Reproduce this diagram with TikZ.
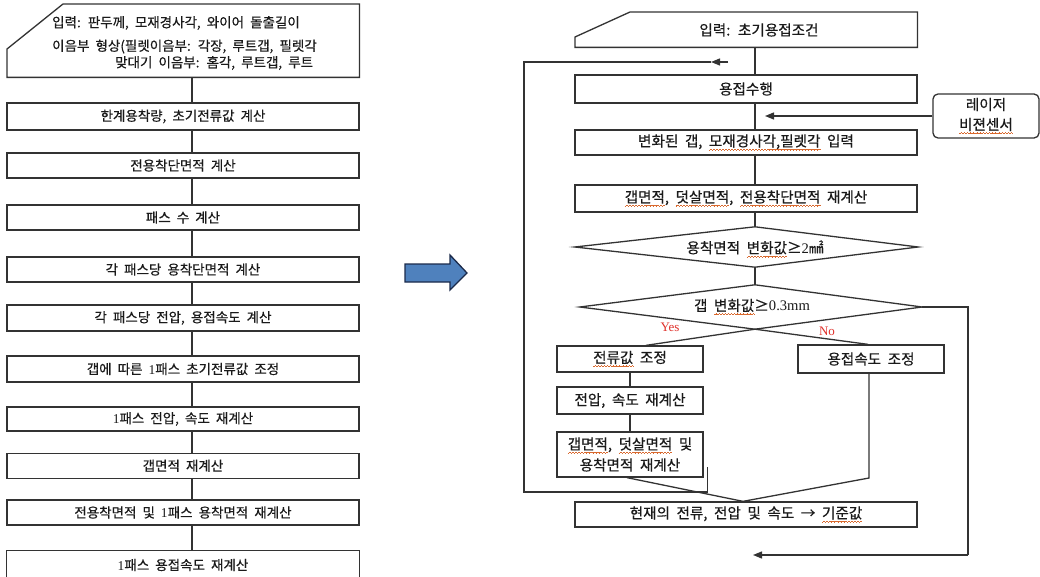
\documentclass[tikz,border=0pt]{standalone}
\usepackage{fontspec}
\setmainfont[WordSpace=2,FakeBold=0.5]{Noto Sans CJK KR}
\newfontfamily\lat{Liberation Serif}
\usetikzlibrary{shapes.geometric,arrows.meta}
\definecolor{ln}{HTML}{333333}
\definecolor{txt}{HTML}{1A1A1A}
\definecolor{sq}{HTML}{D9692E}
\definecolor{blu}{HTML}{4F81BD}
\definecolor{blk}{HTML}{1B2A4A}
\definecolor{ynred}{HTML}{E0302A}
\newcommand\lf{\fontsize{13.5}{16}\selectfont}
\newcommand\rf{\fontsize{14.6}{22}\selectfont}
\newsavebox\sqbox
\newcommand\wvpiece{\hbox{\rule[-4.3pt]{0.75pt}{0.7pt}\rule[-3.7pt]{0.75pt}{0.7pt}\rule[-3.1pt]{0.75pt}{0.7pt}\rule[-3.7pt]{0.75pt}{0.7pt}}}
\newcommand\sqw[1]{\leavevmode\sbox\sqbox{#1}\rlap{\color{sq}\hbox to \wd\sqbox{\xleaders\wvpiece\hfil}}\usebox\sqbox}
\begin{document}
\begin{tikzpicture}[x=1pt,y=-1pt,
 conn/.style={draw=ln,line width=1.3pt},
 lbox/.style={draw=ln,line width=1.3pt,minimum width=352pt,minimum height=25pt,inner sep=0pt,font=\lf,text=txt},
 rbox/.style={draw=ln,line width=1.3pt,minimum width=342pt,minimum height=26pt,inner sep=0pt,font=\rf,text=txt},
 sbox/.style={draw=ln,line width=1.3pt,minimum width=146pt,minimum height=26pt,inner sep=0pt,font=\rf,text=txt,align=center},
 lbl/.style={font=\lf,text=txt,inner sep=0pt},
 rlbl/.style={font=\rf,text=txt,inner sep=0pt},
 yn/.style={font=\lat\fontsize{13}{15}\selectfont,text=ynred,inner sep=0pt},
 tip/.style={-{Triangle[length=9pt,width=7pt]}}
]
\fill[white] (0,0) rectangle (1040,577);
\useasboundingbox (0,0) rectangle (1040,577);

% ---------------- left column ----------------
\coordinate (lx) at (192,0);
\node[minimum width=352pt,minimum height=73pt,inner sep=0pt,anchor=north west] (inL) at (7,4) {};
\draw[conn] ([yshift=-45pt]inL.north west) -- ([xshift=56pt]inL.north west) -- (inL.north east) -- (inL.south east) -- (inL.south west) -- cycle;
\node[lbl,anchor=west] (inL1) at (52,23) {입력: 판두께, 모재경사각, 와이어 돌출길이};
\node[lbl,anchor=west] (inL2) at (52,46.5) {이음부 형상(필렛이음부: 각장, 루트갭, 필렛각};
\node[lbl,anchor=west] (inL3) at (115,63) {맞대기 이음부: 홈각, 루트갭, 루트};

\node[lbox,minimum height=27pt] (b1) at (183,116.5) {한계용착량, 초기전류값 계산};
\node[lbox] (b2) at (183,165.5) {전용착단면적 계산};
\node[lbox] (b3) at (183,217.5) {패스 수 계산};
\node[lbox] (b4) at (183,269.5) {각 패스당 용착단면적 계산};
\node[lbox,minimum height=26pt] (b5) at (183,318) {각 패스당 전압, 용접속도 계산};
\node[lbox,minimum height=26pt] (b6) at (183,369) {갭에 따른 {\lat 1}패스 초기전류값 조정};
\node[lbox,minimum height=24pt] (b7) at (183,419) {{\lat 1}패스 전압, 속도 재계산};
\node[lbox] (b8) at (183,465.8) {갭면적 재계산};
\node[lbox] (b9) at (183,512.5) {전용착면적 및 {\lat 1}패스 용착면적 재계산};
\node[minimum width=352pt,minimum height=28pt,inner sep=0pt,font=\lf,text=txt] (b10) at (183,565) {{\lat 1}패스 용접속도 재계산};
\draw[conn] (b10.south west) -- (b10.north west) -- (b10.north east) -- (b10.south east);

\foreach \a/\b in {inL/b1,b1/b2,b2/b3,b3/b4,b4/b5,b5/b6,b6/b7,b7/b8,b8/b9,b9/b10}
  \draw[conn] (\a.south -| lx) -- (\b.north -| lx);

% ---------------- big arrow ----------------
\draw[fill=blu,draw=blk,line width=1.3pt,line join=miter]
  (405,264) -- (450,264) -- (450,255) -- (467,273) -- (450,290) -- (450,282) -- (405,282) -- cycle;

% ---------------- right column ----------------
\coordinate (rx) at (755,0);
\node[minimum width=342pt,minimum height=35pt,inner sep=0pt,anchor=north west] (inR) at (575,12) {};
\draw[conn] ([yshift=-25pt]inR.north west) -- ([xshift=55pt]inR.north west) -- (inR.north east) -- (inR.south east) -- (inR.south west) -- cycle;
\node[rlbl] (inRt) at (759,30) {입력: 초기용접조건};

\node[rbox,minimum height=28pt] (r1) at (746,89) {용접수행};
\node[rbox,minimum height=25pt] (r2) at (746,142.5) {변화된 갭, \sqw{모재경사각,필렛각} 입력};
\node[rbox,minimum height=27pt] (r3) at (746,198.5) {\sqw{갭면적}, \sqw{덧살면적}, \sqw{전용착단면적} 재계산};

\node[minimum width=343pt,minimum height=40pt,inner sep=0pt] (d1) at (746.5,247) {};
\draw[conn] (d1.west) -- (d1.north -| rx) -- (d1.east) -- (d1.south -| rx) -- cycle;
\node[rlbl] (d1t) at (755,249) {용착면적 \sqw{변화값}≥{\lat 2}㎟};

\node[minimum width=342pt,minimum height=44pt,inner sep=0pt] (d2) at (751,307) {};
\draw[conn] (d2.west) -- (d2.north -| rx) -- (d2.east) -- (d2.south -| rx) -- cycle;
\node[rlbl] (d2t) at (752,307) {갭 \sqw{변화값}≥{\lat 0.3mm}};

\node[rounded corners=5pt,draw=ln,line width=1.3pt,minimum width=106pt,minimum height=44pt,inner sep=0pt,font=\rf,text=txt,align=center] (laser) at (986,116) {레이저\\[-2pt]\sqw{비젼센서}};

\node[sbox] (rY) at (630,359) {\sqw{전류값} 조정};
\node[sbox,minimum height=28pt] (rN) at (871,359) {용접속도 조정};
\node[sbox,minimum height=27pt] (rY2) at (630,400.5) {전압, 속도 재계산};
\node[sbox,minimum height=45pt] (rY3) at (630,454.5) {\sqw{갭면적}, \sqw{덧살면적} 및\\[-1pt]용착면적 재계산};
\node[rbox,minimum height=25pt] (rEnd) at (746,514.5) {현재의 전류, 전압 및 속도 → \sqw{기준값}};

\node[yn] (yes) at (670,327) {Yes};
\node[yn] (no) at (827,331) {No};

% connectors
\draw[conn] (inR.south -| rx) -- (r1.north -| rx);
\draw[conn] (r1.south -| rx) -- (r2.north -| rx);
\draw[conn] (r2.south -| rx) -- (r3.north -| rx);
\draw[conn] (r3.south -| rx) -- (d1.north -| rx);
\draw[conn] (d1.south -| rx) -- (d2.north -| rx);

\coordinate (lsT) at (765,116);
\draw[conn,tip] (laser.west) -- (lsT);

\draw[conn] (d2.south -| rx) -- ([xshift=16pt]rY.north);
\draw[conn] (d2.south -| rx) -- ([xshift=-3pt]rN.north);
\draw[conn] (rY.south) -- (rY2.north);
\draw[conn] (rY2.south) -- (rY3.north);

\coordinate (m) at ([xshift=-3pt]rEnd.north);
\coordinate (nb) at (869,478);
\draw[conn] (rN.south -| nb) -- (nb) -- (m);
\draw[conn] ([xshift=-3pt]rY3.south) -- (m);

\coordinate (nr) at (968,555);
\coordinate (nend) at (753,555);
\draw[conn] (d2.east) -| (nr);
\draw[conn,tip] (nr) -- (nend);

\coordinate (lpA) at ([xshift=4pt,yshift=-12.5pt]rY3.east);
\coordinate (lpB) at (524,492);
\coordinate (lpC) at (728,62);
\coordinate (lpT) at (711,62);
\draw[conn] (lpA) -- (lpA |- lpB) -- (lpB) -- (lpB |- lpC) -- (lpT);
\draw[conn,tip] (lpC) -- (lpT);
\end{tikzpicture}
\end{document}
